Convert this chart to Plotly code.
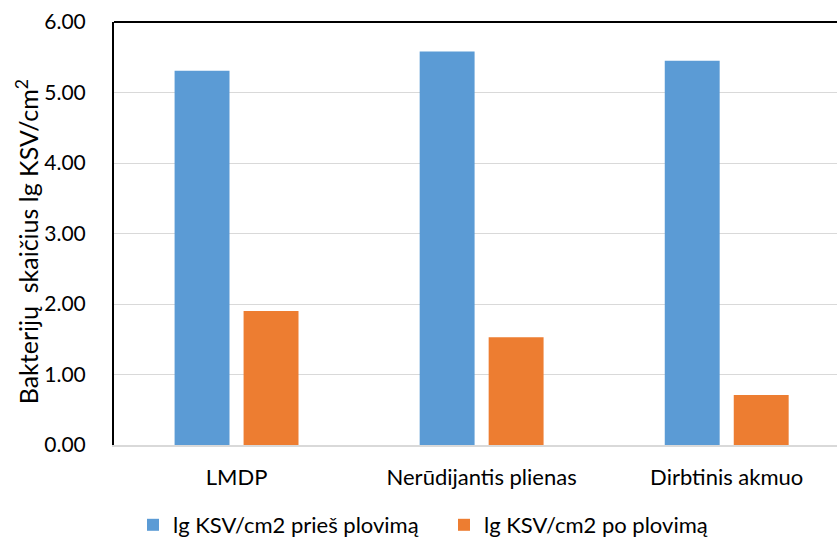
import plotly.graph_objects as go

# Surfaces and bacterial counts (lg CFU/cm2) before and after washing
categories = ["LMDP", "Nerūdijantis plienas", "Dirbtinis akmuo"]
before_wash = [5.31, 5.58, 5.45]
after_wash = [1.90, 1.53, 0.71]
series_names = ["lg KSV/cm2 prieš plovimą", "lg KSV/cm2 po plovimą"]
y_ticks = [0, 1, 2, 3, 4, 5, 6]
y_title = "Bakterijų\u00a0 skaičius lg KSV/cm<sup>2</sup>"

FONT = "Lato"
TEXT = "#000000"

fig = go.Figure()
fig.add_trace(go.Bar(x=categories, y=before_wash, name=series_names[0],
                     marker=dict(color="#5B9BD5", line=dict(width=0))))
fig.add_trace(go.Bar(x=categories, y=after_wash, name=series_names[1],
                     marker=dict(color="#ED7D31", line=dict(width=0))))

W, H = 837, 542
L, R, T, B = 113.5, 0, 22, 96.5
PH = H - T - B

fig.update_layout(
    width=W, height=H,
    margin=dict(l=L, r=R, t=T, b=B, pad=0, autoexpand=False),
    paper_bgcolor="white", plot_bgcolor="white",
    barmode="group", bargap=0.437, bargroupgap=0.204,
    font=dict(family=FONT, size=22, color=TEXT),
    showlegend=True,
    legend=dict(orientation="h", xref="container", x=133 / W, xanchor="left",
                yref="container", y=1 - 525 / H, yanchor="middle",
                font=dict(family=FONT, size=22, color=TEXT),
                itemwidth=30, entrywidth=266, entrywidthmode="pixels",
                traceorder="normal", bgcolor="rgba(0,0,0,0)"),
    xaxis=dict(range=[-0.5, 2.45], showgrid=False, showline=True,
               linecolor="#D9D9D9", linewidth=2, ticks="", ticklabelstandoff=12,
               tickfont=dict(family=FONT, size=22, color=TEXT), fixedrange=True),
    yaxis=dict(range=[0, 6], tickvals=y_ticks, tickformat=".2f",
               showgrid=True, gridcolor="#D9D9D9", gridwidth=1,
               showline=True, linecolor="#000000", linewidth=2,
               zeroline=False, ticks="", ticklabelstandoff=22,
               tickfont=dict(family=FONT, size=21, color=TEXT), fixedrange=True),
    shapes=[dict(type="line", xref="paper", yref="paper", x0=0, x1=1, y0=1, y1=1,
                 line=dict(color="#000000", width=2))],
    annotations=[dict(text=y_title, xref="paper", yref="paper",
                      x=(27 - L) / (W - L - R), y=(T + PH - 242) / PH,
                      xanchor="center", yanchor="middle",
                      textangle=-90, showarrow=False,
                      font=dict(family=FONT, size=25, color=TEXT))],
)

fig.write_html("out.html", config={"displayModeBar": False})
